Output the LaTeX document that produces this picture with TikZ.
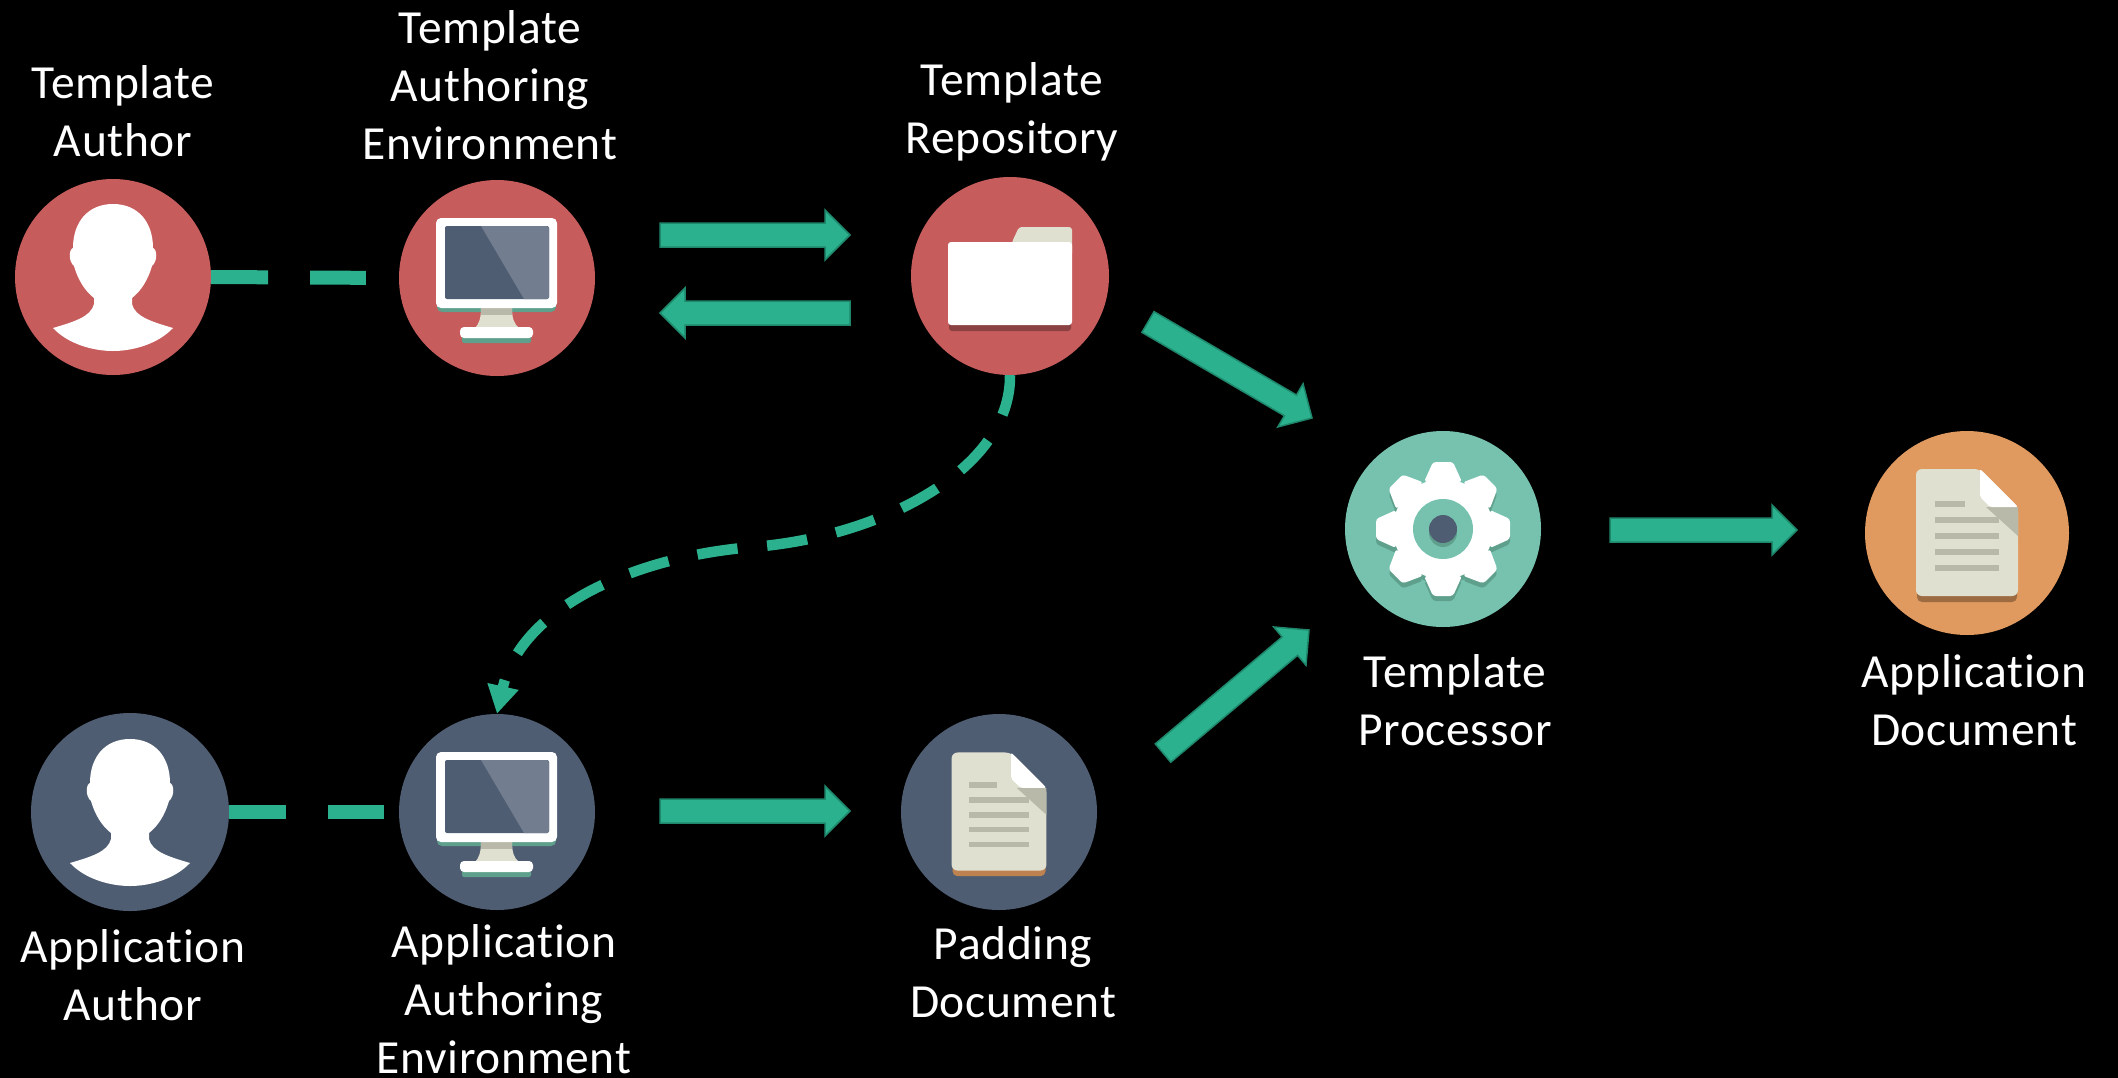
\documentclass[tikz,border=0pt]{standalone}
\usepackage{fontspec}
\setmainfont{Carlito}[Ligatures=NoCommon]
\usepackage{xcolor}
\definecolor{myred}{RGB}{199,92,92}
\definecolor{myblue}{RGB}{79,93,115}
\definecolor{myteal}{RGB}{118,194,175}
\definecolor{myorange}{RGB}{224,153,94}
\definecolor{mycream}{RGB}{224,224,209}
\definecolor{mygrey}{RGB}{185,185,169}
\definecolor{mygreen}{RGB}{43,177,141}
\definecolor{mydeep}{RGB}{30,135,108}
\definecolor{myshade}{RGB}{95,160,141}
\usetikzlibrary{calc}
\usetikzlibrary{arrows.meta}
\newcommand{\BlockArrow}[2]{
\draw[line width=1.5pt,draw=mydeep,fill=mygreen,line join=miter] let
\p1=($(#2)-(#1)$),\n1={atan2(\y1,\x1)} in
($(#1)+({\n1+90}:12pt)$) -- ($(#2)+(\n1:-25pt)+({\n1+90}:12pt)$) --
($(#2)+(\n1:-25pt)+({\n1+90}:25pt)$) -- (#2) --
($(#2)+(\n1:-25pt)+({\n1-90}:25pt)$) --
($(#2)+(\n1:-25pt)+({\n1-90}:12pt)$) -- ($(#1)+({\n1-90}:12pt)$) --cycle;}
\newcommand{\PersonIcon}[1]{
\fill[white,shift={(#1)}] (0,-73) .. controls (25,-73) and (40,-55) .. (40,-29)
.. controls (44,-28) and (45,-16) .. (39,-11)
.. controls (35,3) and (28,14) .. (19,21) -- (19,27)
.. controls (22,40) and (40,45) .. (60,51)
.. controls (45,67) and (20,74) .. (0,74)
.. controls (-20,74) and (-45,67) .. (-60,51)
.. controls (-40,45) and (-22,40) .. (-19,27) -- (-19,21)
.. controls (-28,14) and (-35,3) .. (-39,-11)
.. controls (-45,-16) and (-44,-28) .. (-40,-29)
.. controls (-40,-55) and (-25,-73) .. (0,-73) --cycle;}
\newcommand{\MonitorIcon}[1]{
\begin{scope}[shift={(#1)}]
	\fill[myshade,rounded corners=5] (-60,0) rectangle (59,34);
	\fill[mycream] (-16,30) -- (15,30) .. controls (15,40) and (17,46) .. (22,50) -- (-22,50) .. controls (-18,46) and (-16,40) .. (-16,30) --cycle;
	\fill[mygrey] (-16,30) rectangle (15,37);
	\fill[myshade,rounded corners=2] (-35,52) rectangle (34,65);
	\fill[white,rounded corners=4] (-37,49) rectangle (36,60);
	\fill[white,rounded corners=5] (-61,-60) rectangle (60,30);
	\fill[myblue,rounded corners=2] (-52,-52) rectangle (52,21);
	\fill[white!20!myblue] (-16,-52) -- (50,-52) -- (52,-50) -- (52,19) -- (50,21) -- (27,21) --cycle;
\end{scope}}
\newcommand{\FolderIcon}[1]{
\begin{scope}[shift={(#1)}]
	\fill[myred!70!black,rounded corners=3] (-61,30) rectangle (61,55);
	\fill[mycream,rounded corners=3] (2,-34) -- (9,-49) -- (62,-49) -- (62,-20) -- (2,-20) --cycle;
	\fill[white,rounded corners=3] (-62,-34) rectangle (62,49);
\end{scope}}
\newcommand{\GearShape}{
\fill circle (50);
\foreach \a in {0,45,...,315}
	\fill[rotate=\a,rounded corners=3] (-19,-47) -- (-10,-67) -- (10,-67) -- (19,-47) --cycle;}
\newcommand{\GearIcon}[1]{
\begin{scope}[shift={(#1)}]
	\begin{scope}[shift={(0,5)},myshade] \GearShape \end{scope}
	\begin{scope}[white] \GearShape \end{scope}
	\fill[myteal] (0,0) circle (30);
	\fill[myshade] (0,4) circle (14);
	\fill[myblue] (0,0) circle (14);
\end{scope}}
\newcommand{\DocIcon}[3]{
\begin{scope}[shift={(#1)},scale=#2]
	\fill[#3,rounded corners=5] (-50,40) rectangle (50,69);
	\fill[mycream,rounded corners=6] (-51,-64) -- (13,-64) -- (51,-26) -- (51,63) -- (-51,63) --cycle;
	\fill[mygrey] (19,-26) -- (51,-26) -- (51,3) --cycle;
	\fill[white,rounded corners=2] (13,-64) -- (51,-26) -- (23,-26) -- (13,-36) --cycle;
	\fill[mygrey] (-32,-32) rectangle (-2,-26);
	\foreach \y in {-16,0,16,32}
		\fill[mygrey] (-32,\y) rectangle (32,\y+6);
\end{scope}}

\begin{document}
\begin{tikzpicture}[x=1pt,y=-1pt]
	\tikzstyle{disc}=[circle,minimum size=196pt,inner sep=0pt];
	\tikzstyle{lbl}=[text=white,align=center,inner sep=0pt,font=\addfontfeature{LetterSpace=1.4}\fontsize{47.5}{58}\selectfont];
	\tikzstyle{dashlink}=[line width=14pt,draw=mygreen,dash pattern=on 57pt off 42pt];
	\useasboundingbox (0,0) rectangle (2118,1077);
	\fill[black] (-3,-3) rectangle (2121,1080);
	%%
	\node[disc,fill=myred]    (tauthor) at (113,277) {};
	\node[disc,fill=myred]    (tenv)    at (497,278) {};
	\node[disc,fill=myred,minimum size=198pt]  (trepo) at (1010,276) {};
	\node[disc,fill=myteal]   (tproc)   at (1443,529) {};
	\node[disc,fill=myorange,minimum size=204pt] (adoc) at (1967,533) {};
	\node[disc,fill=myblue,minimum size=198pt] (aauthor) at (130,812) {};
	\node[disc,fill=myblue]   (aenv)    at (497,812) {};
	\node[disc,fill=myblue]   (pdoc)    at (999,812) {};
	%%
	\PersonIcon{tauthor}
	\MonitorIcon{tenv}
	\FolderIcon{trepo}
	\GearIcon{tproc}
	\DocIcon{adoc}{1}{myorange!70!black}
	\PersonIcon{aauthor}
	\MonitorIcon{aenv}
	\DocIcon{pdoc}{0.93}{myorange!85!black}
	%%
	\node[lbl] (ltauthor) at (123,111)  {Template\\Author};
	\node[lbl] (ltenv)    at (490,85)   {Template\\Authoring\\Environment};
	\node[lbl] (ltrepo)   at (1012,112) {Template\\Repository};
	\node[lbl] (ltproc)   at (1455,700) {Template\\Processor};
	\node[lbl] (ladoc)    at (1974,700) {Application\\Document};
	\node[lbl] (laauthor) at (133,975)  {Application\\Author};
	\node[lbl] (laenv)    at (504,999)  {Application\\Authoring\\Environment};
	\node[lbl] (lpdoc)    at (1013,972) {Padding\\Document};
	%%
	\coordinate (envout)   at (660,235);
	\coordinate (repoin)   at (850,235);
	\coordinate (repoout)  at (850,313);
	\coordinate (envin)    at (660,313);
	\coordinate (repotail) at (1148,322);
	\coordinate (procin)   at (1312,418);
	\coordinate (aenvout)  at (660,811);
	\coordinate (pdocin)   at (850,811);
	\coordinate (pdoctail) at (1163,753);
	\coordinate (procin2)  at (1309,630);
	\coordinate (procout)  at (1610,530);
	\coordinate (adocin)   at (1797,530);
	%%
	\BlockArrow{envout}{repoin}
	\BlockArrow{repoout}{envin}
	\BlockArrow{repotail}{procin}
	\BlockArrow{aenvout}{pdocin}
	\BlockArrow{pdoctail}{procin2}
	\BlockArrow{procout}{adocin}
	%%
	\draw[dashlink,shorten >=33pt] (tauthor.east) -- (tenv.west);
	\draw[dashlink,shorten >=15pt] (aauthor.east) -- (aenv.west);
	\draw[line width=10.5pt,draw=mygreen,fill=none,dash pattern=on 40.5pt off 29.7pt,-{Triangle[length=28pt,width=30pt,fill=mygreen]}]
		(trepo.south) .. controls (1011,470) and (880,537) .. (753,547)
		.. controls (630,557) and (520,610) .. (aenv.north);
\end{tikzpicture}
\end{document}
